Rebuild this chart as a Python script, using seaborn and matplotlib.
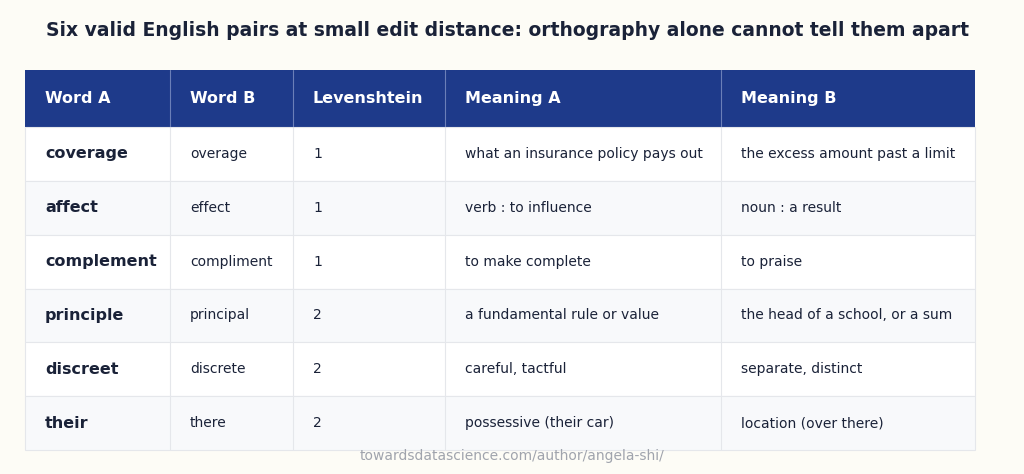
import matplotlib.pyplot as plt
import matplotlib.patches as mpatches
import seaborn as sns

sns.set_theme(style="white")
plt.rcParams['font.family'] = ['DejaVu Sans']

title = "Six valid English pairs at small edit distance: orthography alone cannot tell them apart"
headers = ["Word A", "Word B", "Levenshtein", "Meaning A", "Meaning B"]
word_a = ["coverage", "affect", "complement", "principle", "discreet", "their"]
word_b = ["overage", "effect", "compliment", "principal", "discrete", "there"]
levenshtein = [1, 1, 1, 2, 2, 2]
meaning_a = ["what an insurance policy pays out", "verb : to influence", "to make complete",
             "a fundamental rule or value", "careful, tactful", "possessive (their car)"]
meaning_b = ["the excess amount past a limit", "noun : a result", "to praise",
             "the head of a school, or a sum", "separate, distinct", "location (over there)"]
source = "towardsdatascience.com/author/angela-shi/"

col_edges = [25, 170, 293, 445, 721, 975]
header_top, header_bot = 70, 127
row_h = (450 - header_bot) / len(word_a)

fig = plt.figure(figsize=(10.24, 4.74), dpi=100, facecolor="#fdfcf6")
ax = fig.add_axes([0, 0, 1, 1])
ax.set_xlim(0, 1024)
ax.set_ylim(474, 0)
ax.axis("off")

ax.text(508, 30, title, ha="center", va="center", fontsize=13.5,
        fontweight="bold", color="#1a2238")

# header
ax.add_patch(mpatches.Rectangle((col_edges[0], header_top), col_edges[-1] - col_edges[0],
                                header_bot - header_top, color="#1e3a8a", lw=0))
for i, h in enumerate(headers):
    ax.text(col_edges[i] + 20, (header_top + header_bot) / 2, h, ha="left", va="center",
            fontsize=11.5, fontweight="bold", color="white")
    if i > 0:
        ax.plot([col_edges[i]] * 2, [header_top, header_bot], color="#6b7fb8", lw=0.8)

rows = list(zip(word_a, word_b, levenshtein, meaning_a, meaning_b))
for r, row in enumerate(rows):
    top = header_bot + r * row_h
    ax.add_patch(mpatches.Rectangle((col_edges[0], top), col_edges[-1] - col_edges[0], row_h,
                                    facecolor="white" if r % 2 == 0 else "#f8f9fb",
                                    edgecolor="#e5e7eb", lw=0.8))
    for i, val in enumerate(row):
        ax.text(col_edges[i] + 20, top + row_h / 2, str(val), ha="left", va="center",
                fontsize=11.5 if i == 0 else 10,
                fontweight="bold" if i == 0 else "normal", color="#1a2238")
    for x in col_edges[1:-1]:
        ax.plot([x, x], [top, top + row_h], color="#e5e7eb", lw=0.8)

ax.text(512, 456, source, ha="center", va="center", fontsize=10, color="#a0a4ad")

fig.savefig("out.png", dpi=100, facecolor=fig.get_facecolor())
